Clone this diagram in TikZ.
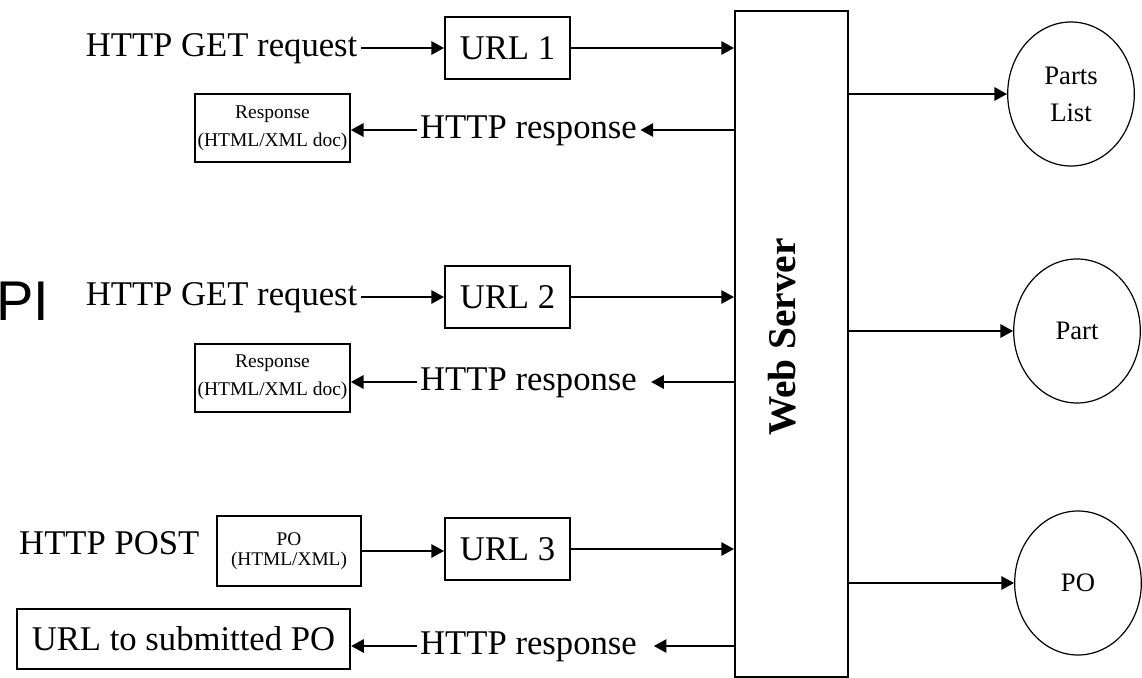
\documentclass[tikz,border=0pt]{standalone}
\usepackage{fontspec}
\setmainfont{Liberation Serif}
\newfontfamily\slidefont{Liberation Sans}
\usepackage{tikz}
\usetikzlibrary{arrows,shapes,positioning}
\usetikzlibrary{arrows.meta}

\begin{document}
\begin{tikzpicture}[x=0.75pt,y=0.75pt,yscale=-1,xscale=1,
  line width=1.5pt,
  >={Triangle[length=9.5pt,width=10pt]},
  msg/.style={inner xsep=2pt, inner ysep=0pt, font=\fontsize{26}{28}\selectfont, text height=18pt, text depth=5.7pt},
  urlbox/.style={draw, minimum width=93.75pt, minimum height=46pt, inner sep=0pt, font=\fontsize{26}{28}\selectfont},
  docbox/.style={draw, inner sep=0pt, align=center},
  store/.style={draw, ellipse, line width=0.9pt, inner sep=0pt, align=center, minimum width=95pt, minimum height=108pt, font=\fontsize{20}{27.75}\selectfont}
]
\useasboundingbox (0,0) rectangle (1142,678);

%Shape: Rectangle [server]
\node (server) [draw, minimum width=84.75pt, minimum height=499.5pt, inner sep=0pt] at (791.5,344) {};
% Text Node
\node (srvname) [rotate=90, inner sep=0pt, font=\bfseries\fontsize{29.5}{31}\selectfont] at (782,337) {Web Server};
% Text Node
\node (api) [anchor=base west, inner sep=0pt, font=\slidefont\fontsize{42}{44}\selectfont] at (-4.5,320) {PI};

%Shapes: Circles
\node (plist) [store] at (1071,94) {Parts\\List};
\node (part) [store] at (1077,331) {Part};
\node (po) [store] at (1078,583) {PO};
\draw [->] (server.east |- plist) -- (plist.west);
\draw [->] (server.east |- part) -- (part.west);
\draw [->] (server.east |- po) -- (po.west);

%Row 1
\node (get1) [msg, anchor=east] at (361,48) {HTTP GET request};
\node (url1) [urlbox] at (507.5,48) {URL 1};
\node (reply1) [msg] at (528.5,130) {HTTP response};
\node (doc1) [docbox, minimum width=116pt, minimum height=51pt, font=\fontsize{14.6}{21}\selectfont] at (272.5,128) {Response\\(HTML/XML doc)};
\draw [->] (get1.east) -- (url1.west);
\draw [->] (url1.east) -- (url1.east -| server.west);
\draw [->] (server.west |- reply1) -- (reply1.east);
\draw [->] (reply1.west) -- (reply1.west -| doc1.east);

%Row 2
\node (get2) [msg, anchor=east] at (361,297) {HTTP GET request};
\node (url2) [urlbox] at (507.5,297) {URL 2};
\node (reply2) [msg] at (528.5,382) {HTTP response};
\node (doc2) [docbox, minimum width=116pt, minimum height=51pt, font=\fontsize{14.6}{21}\selectfont] at (272.5,377.5) {Response\\(HTML/XML doc)};
\draw [->] (get2.east) -- (url2.west);
\draw [->] (url2.east) -- (url2.east -| server.west);
\draw [->] (server.west |- reply2) -- ([xshift=8pt]reply2.east);
\draw [->] (reply2.west) -- (reply2.west -| doc2.east);

%Row 3
\node (post) [msg, anchor=east] at (203,546) {HTTP POST};
\node (pobox) [docbox, minimum width=108pt, minimum height=52pt, font=\fontsize{14.5}{15}\selectfont] at (289,551) {PO\\(HTML/XML)};
\node (url3) [urlbox] at (507.5,549) {URL 3};
\node (reply3) [msg] at (528.5,646) {HTTP response};
\node (posted) [docbox, minimum width=250pt, minimum height=45pt, font=\fontsize{26}{28}\selectfont] at (183.5,639) {URL to submitted PO};
\draw [->] (pobox.east) -- (pobox.east -| url3.west);
\draw [->] (url3.east) -- (url3.east -| server.west);
\draw [->] (server.west |- reply3) -- ([xshift=10pt]reply3.east);
\draw [->] (reply3.west) -- (reply3.west -| posted.east);

\end{tikzpicture}
\end{document}
